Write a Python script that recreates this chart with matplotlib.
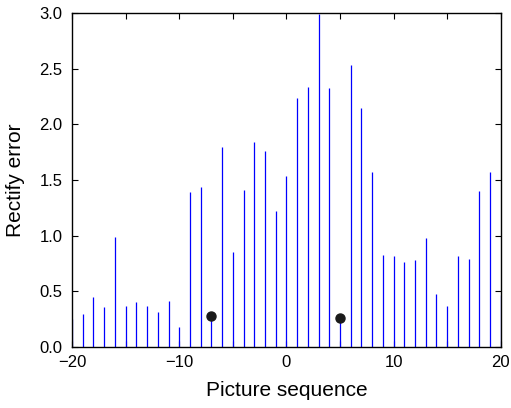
import matplotlib
matplotlib.use('Agg')
import matplotlib.pyplot as plt
import numpy as np

plt.rcParams['font.family'] = ['Liberation Sans', 'DejaVu Sans']

# picture sequence index and rectify error
seq = np.arange(-20, 21)
err = [0.25, 0.30, 0.45, 0.36, 0.99, 0.37, 0.40, 0.37, 0.31, 0.41,
       0.18, 1.39, 1.44, 0.28, 1.80, 0.85, 1.41, 1.84, 1.76, 1.22,
       1.54, 2.24, 2.34, 2.99, 2.33, 0.26, 2.53, 2.15, 1.57, 0.83,
       0.82, 0.76, 0.78, 0.98, 0.48, 0.37, 0.815, 0.79, 1.40, 1.57, 0.47]
# marked pictures
mark_x = [-7, 5]
mark_y = [0.28, 0.26]

fig = plt.figure(figsize=(5.11, 4.08), dpi=100)
ax = fig.add_axes([0.141, 0.1495, 0.839, 0.8185])

ax.vlines(seq, 0, err, colors='#0000ff', linewidth=0.9)
ax.plot(mark_x, mark_y, 'o', color='#1a1a1a', markersize=6.5)

ax.set_xlim(-20, 20)
ax.set_ylim(0, 3.0)
ax.set_xticks(np.arange(-20, 21, 5))
ax.set_xticklabels(['\u221220', '', '\u221210', '', '0', '', '10', '', '20'])
ax.set_yticks(np.arange(0, 3.01, 0.5))
ax.set_yticklabels([f'{v:.1f}' for v in np.arange(0, 3.01, 0.5)])
ax.tick_params(direction='in', top=True, right=True, length=4, width=0.8,
               labelsize=12)
ax.tick_params(axis='y', pad=7)
ax.tick_params(axis='x', pad=6)
for s in ax.spines.values():
    s.set_linewidth(1.0)

ax.set_xlabel('Picture sequence', fontsize=15, labelpad=8)
ax.set_ylabel('Rectify error', fontsize=15, labelpad=10)

fig.savefig('out.png', dpi=100)
